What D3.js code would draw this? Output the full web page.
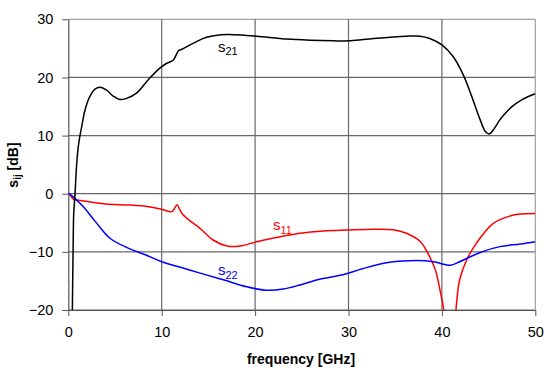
<!DOCTYPE html>
<html><head><meta charset="utf-8">
<script src="https://cdn.jsdelivr.net/npm/d3@7"></script>
<style>body{margin:0;background:#fff}svg{display:block}text{font-family:Arial,"Liberation Sans",sans-serif}</style>
</head><body><svg id="c" width="553" height="379"></svg>
<script>
const xTicks = [0, 10, 20, 30, 40, 50];
const yTicks = [-20, -10, 0, 10, 20, 30];

const s21Freq = [0.42,0.47,0.52,0.58,0.72,0.9,1.07,1.25,1.43,1.79,2.3,2.86,3.4,4.1,4.8,5.5,6.25,7.3,8.56,9.8,10.5,11.24,11.8,12.1,13.4,14.8,17,19.1,20.2,23.4,25.9,28.4,30.2,32.7,36.2,37.7,38.7,40,41.2,42.3,43.2,44.1,44.7,45.1,45.6,46.2,46.6,47.6,48.5,49.1,50];
const s21Db   = [-22,-15,-9,-3.4,0,5.2,8.1,10,11.5,14.4,16.7,18,18.3,17.8,16.8,16.2,16.4,17.3,19.6,21.6,22.4,23.0,24.6,24.8,25.9,26.9,27.4,27.2,27.1,26.6,26.4,26.3,26.3,26.7,27.1,27.1,26.7,25.6,23.6,20.4,16.7,12.7,10.6,10.3,11.2,12.7,13.5,15.1,16.1,16.6,17.2];

const s11Freq = [0,0.1,0.58,1.47,3.97,6.47,8.6,10,11.1,11.45,11.64,11.9,12.17,12.9,14.1,15.5,17,18.4,20.2,22.7,24.8,27.3,29.8,32.7,34.8,36.2,37.7,38.5,39.3,39.8,40.2,40.5,40.85,41.2,41.5,41.9,42.65,43.7,45.5,47.3,48.4,50];
const s11Db   = [0,-0.05,-0.96,-1.2,-1.77,-1.94,-2.23,-2.68,-3.1,-2.3,-1.9,-2.6,-3.4,-4.5,-5.95,-7.96,-9.0,-9.0,-8.25,-7.4,-6.8,-6.4,-6.24,-6.1,-6.2,-6.8,-8.25,-10.25,-13.1,-16.6,-20,-25,-30,-25,-20,-14.8,-11.4,-8.5,-5.1,-3.83,-3.5,-3.4];

const s22Freq = [0,0.1,1.47,2.9,4.5,6.47,8.25,10,12.1,14.2,16.6,19.1,21.2,23,24.8,26.9,29.5,31.5,34.4,37.3,39.1,40.9,41.9,44.1,46.2,48.4,50];
const s22Db   = [0.1,0,-2,-4.8,-7.7,-9.4,-10.5,-11.7,-12.7,-13.7,-14.8,-16,-16.6,-16.4,-15.7,-14.7,-13.9,-12.9,-11.8,-11.5,-11.7,-12.3,-11.7,-10.1,-9.1,-8.65,-8.25];

const L = 68.3, R = 535.3, T = 19.3, B = 310;
const svg = d3.select("#c");
const x = d3.scaleLinear().domain([0, 50]).range([L, R]);
const y = d3.scaleLinear().domain([-20, 30]).range([B, T]);

// gridlines
const g = svg.append("g");
g.selectAll(".hg").data(yTicks).enter().append("line")
  .attr("x1", L).attr("x2", R).attr("y1", d => y(d)).attr("y2", d => y(d))
  .attr("stroke", d => d === 30 ? "#a0a0a0" : "#686868").attr("stroke-width", 1.2);
g.selectAll(".vg").data(xTicks.filter(d => d > 0)).enter().append("line")
  .attr("y1", T).attr("y2", B).attr("x1", d => x(d)).attr("x2", d => x(d))
  .attr("stroke", d => d === 50 ? "#a0a0a0" : "#686868").attr("stroke-width", 1.2);

// axes
const ax = svg.append("g").attr("transform", `translate(0,${B})`)
  .call(d3.axisBottom(x).tickValues(xTicks).tickSize(6).tickPadding(11).tickSizeOuter(0));
const ay = svg.append("g").attr("transform", `translate(${L},0)`)
  .call(d3.axisLeft(y).tickValues(yTicks).tickSize(6).tickPadding(9).tickSizeOuter(0));
[ax, ay].forEach(a => {
  a.select(".domain").attr("stroke", "#555").attr("stroke-width", 1.2);
  a.selectAll(".tick line").attr("stroke", "#555");
  a.selectAll("text").attr("font-size", 14.5).attr("fill", "#000")
   .attr("font-family", "Arial, 'Liberation Sans', sans-serif");
});

// clip
svg.append("clipPath").attr("id", "clip").append("rect")
  .attr("x", L).attr("y", T).attr("width", R - L).attr("height", B - T);

const line = d3.line().x(d => x(d[0])).y(d => y(d[1])).curve(d3.curveCatmullRom.alpha(0.5));
const series = [
  {f: s11Freq, v: s11Db, c: "#ff0000"},
  {f: s22Freq, v: s22Db, c: "#0000ff"},
  {f: s21Freq, v: s21Db, c: "#000000"}
];
series.forEach(s => {
  svg.append("path").attr("clip-path", "url(#clip)")
    .attr("d", line(s.f.map((f, i) => [f, s.v[i]])))
    .attr("fill", "none").attr("stroke", s.c).attr("stroke-width", 1.5);
});

// labels
function sLabel(px, py, sub, col) {
  const t = svg.append("text").attr("x", px).attr("y", py).attr("fill", col).attr("font-size", 15);
  t.append("tspan").text("s");
  t.append("tspan").attr("dy", 3.5).attr("font-size", 11).text(sub);
}
sLabel(218, 51.5, "21", "#000");
sLabel(273, 230, "11", "#ff0000");
sLabel(218, 275, "22", "#0000ff");

svg.append("text").attr("x", 301).attr("y", 364).attr("text-anchor", "middle")
  .attr("font-size", 14).attr("font-weight", "bold").text("frequency [GHz]");

const yl = svg.append("text").attr("transform", "translate(18,165) rotate(-90)")
  .attr("text-anchor", "middle").attr("font-size", 14).attr("font-weight", "bold");
yl.append("tspan").text("s");
yl.append("tspan").attr("dy", 3).attr("font-size", 10).text("ij");
yl.append("tspan").attr("dy", -3).text(" [dB]");
</script></body></html>
